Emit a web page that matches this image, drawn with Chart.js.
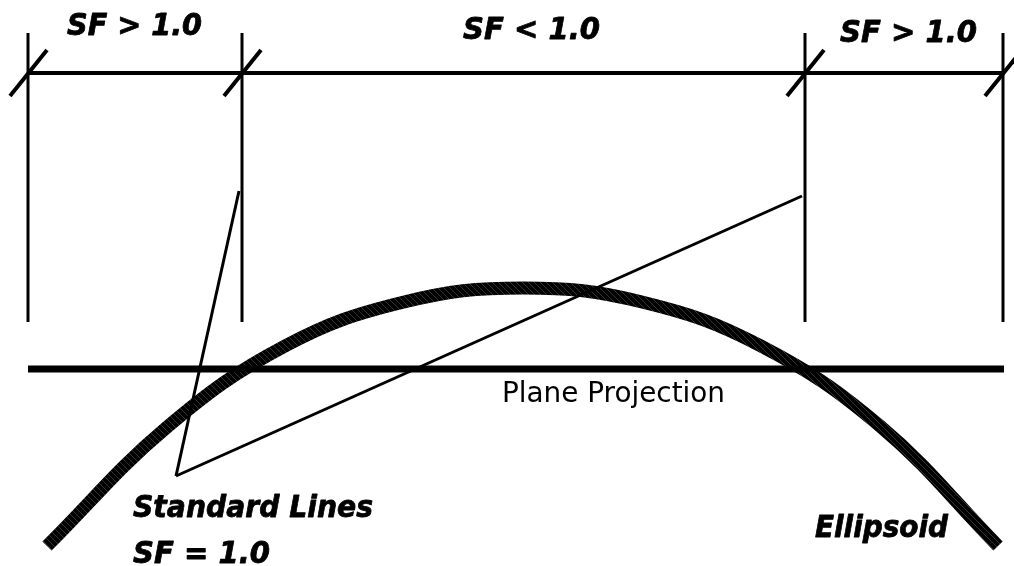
<!DOCTYPE html>
<html>
<head>
<meta charset="utf-8">
<script src="https://cdn.jsdelivr.net/npm/chart.js@4.4.1/dist/chart.umd.min.js"></script>
<style>
  html, body { margin: 0; padding: 0; background: #fff; }
  #wrap { width: 1014px; height: 566px; }
</style>
</head>
<body>
<div id="wrap"><canvas id="diagram" width="1014" height="566"></canvas></div>
<script>
// --- Diagram values (page units, y grows downward) ---
const zoneBounds = [28, 242, 805, 1003];      // x of the section boundaries
const zoneTop = 33, zoneBottom = 322;          // extent of the boundary lines
const dimLineY = 73;                           // dimension line
const zoneLabels = ['SF > 1.0', 'SF < 1.0', 'SF > 1.0'];

const planeY = 369;
const planeX = [28, 1004];
const planeLabel = 'Plane Projection';

// ellipsoid surface
const ellipsoidX = [47, 166, 285, 404, 523, 642, 761, 880, 998];
const ellipsoidY = [546, 428, 346, 302, 288, 302, 346, 426, 546];
const ellipsoidLabel = 'Ellipsoid';

// leader lines to the two standard lines
const leaderFrom = [176, 476];
const leaderTo = [[239, 191], [802, 196]];
const standardLabel = ['Standard Lines', 'SF = 1.0'];

// --- helpers ---
function seg(x1, y1, x2, y2, width) {
    return {
        data: [{ x: x1, y: y1 }, { x: x2, y: y2 }],
        showLine: true,
        borderColor: '#000',
        borderWidth: width,
        borderCapStyle: 'butt',
        pointRadius: 0
    };
}

function hatchPattern() {
    const pc = document.createElement('canvas');
    pc.width = 6; pc.height = 6;
    const p = pc.getContext('2d');
    p.fillStyle = '#000';
    p.fillRect(0, 0, 6, 6);
    p.strokeStyle = '#555';
    p.lineWidth = 0.6;
    p.beginPath();
    p.moveTo(-1, -1); p.lineTo(7, 7);
    p.stroke();
    return p.createPattern(pc, 'repeat');
}

const datasets = [];

// boundary verticals + slash ticks
zoneBounds.forEach(x => {
    datasets.push(seg(x, zoneTop, x, zoneBottom, 3));
    datasets.push(seg(x - 18, dimLineY + 23, x + 19, dimLineY - 23, 4));
});
// dimension line
datasets.push(seg(zoneBounds[0], dimLineY, zoneBounds[zoneBounds.length - 1], dimLineY, 4));
// plane projection
datasets.push(seg(planeX[0], planeY, planeX[1], planeY, 7));
// leaders
leaderTo.forEach(t => datasets.push(seg(leaderFrom[0], leaderFrom[1], t[0], t[1], 3)));
// ellipsoid
datasets.push({
    data: ellipsoidX.map((x, i) => ({ x: x, y: ellipsoidY[i] })),
    showLine: true,
    borderColor: hatchPattern(),
    borderWidth: 13,
    borderCapStyle: 'butt',
    tension: 0.4,
    pointRadius: 0
});

// text: [text, left, baseline, width, bold]
const texts = [
    [zoneLabels[0], 67, 35, 135, true],
    [zoneLabels[1], 463, 39, 137, true],
    [zoneLabels[2], 840, 42, 137, true],
    [planeLabel, 502, 402, 223, false],
    [standardLabel[0], 133, 517, 240, true],
    [standardLabel[1], 133, 563, 137, true],
    [ellipsoidLabel, 815, 537, 133, true]
];

const textPlugin = {
    id: 'diagramText',
    afterDatasetsDraw(chart) {
        const ctx = chart.ctx;
        const xs = chart.scales.x, ys = chart.scales.y;
        texts.forEach(([txt, x, y, w, bold]) => {
            ctx.save();
            ctx.font = bold ? 'italic bold 30px "DejaVu Sans"' : '29px "DejaVu Sans"';
            ctx.fillStyle = '#000';
            ctx.strokeStyle = '#000';
            ctx.lineWidth = 0.8;
            ctx.lineJoin = 'round';
            ctx.textBaseline = 'alphabetic';
            const m = ctx.measureText(txt).width;
            const px = xs.getPixelForValue(x), py = ys.getPixelForValue(y);
            ctx.translate(px, py);
            ctx.scale(w / m, 1);
            ctx.fillText(txt, 0, 0);
            if (bold) ctx.strokeText(txt, 0, 0);
            ctx.restore();
        });
    }
};

new Chart(document.getElementById('diagram'), {
    type: 'scatter',
    data: { datasets: datasets },
    options: {
        responsive: false,
        animation: false,
        devicePixelRatio: 1,
        layout: { padding: 0 },
        plugins: { legend: { display: false }, tooltip: { enabled: false } },
        scales: {
            x: { type: 'linear', min: 0, max: 1014, display: false },
            y: { type: 'linear', min: 0, max: 566, reverse: true, display: false }
        }
    },
    plugins: [textPlugin]
});
</script>
</body>
</html>
